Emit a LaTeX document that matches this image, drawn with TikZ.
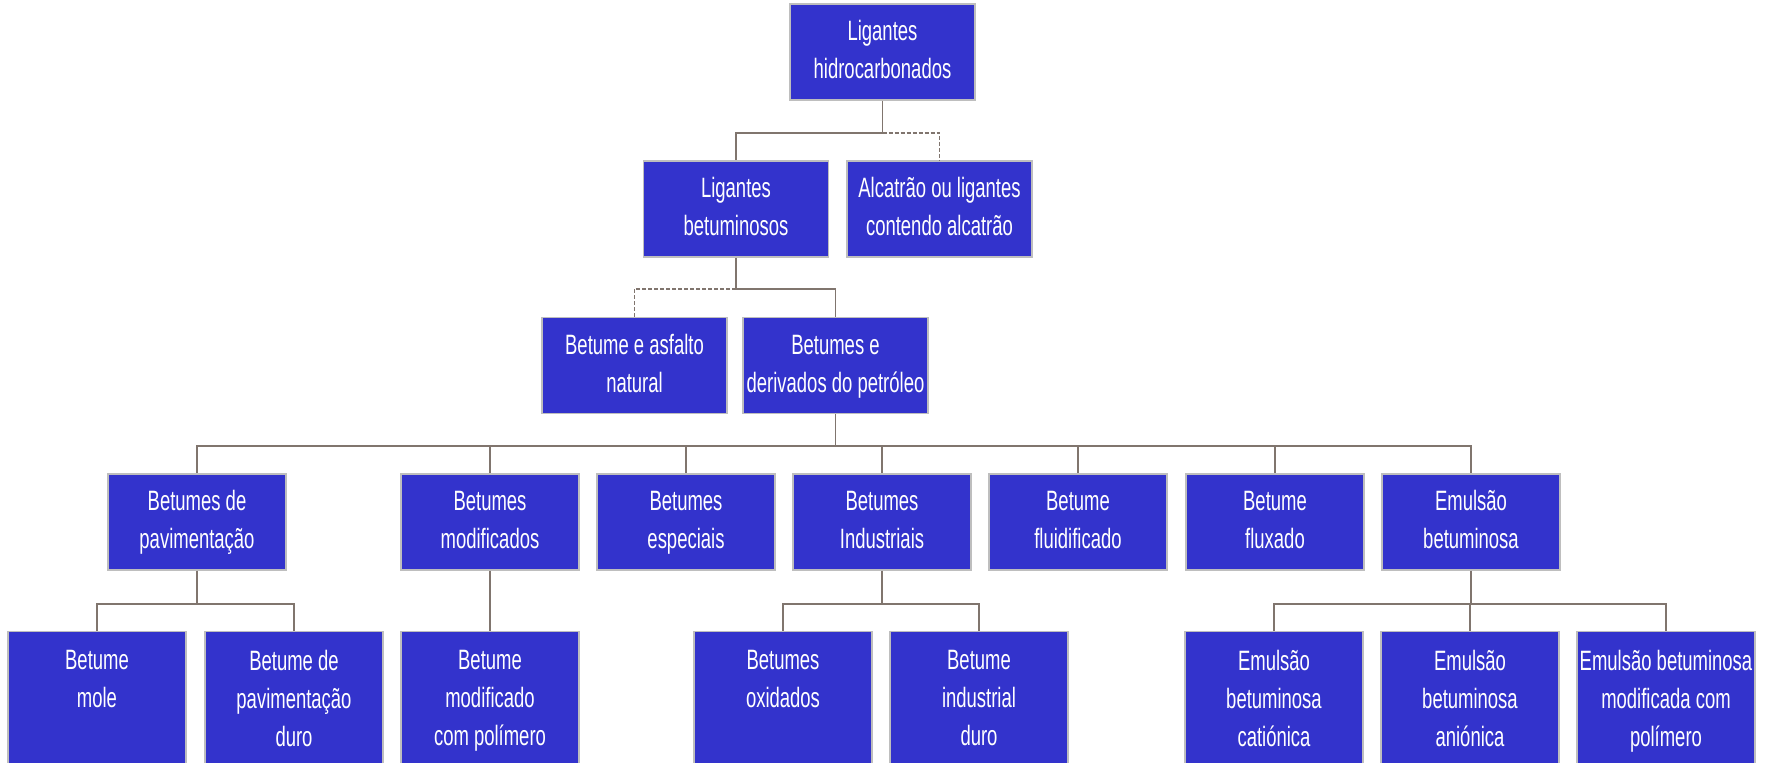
\documentclass[tikz,border=0pt]{standalone}
\usepackage{fontspec}
\setmainfont{Liberation Sans}[FakeStretch=0.66]
\usepackage{tikz}
\usetikzlibrary{positioning}
\definecolor{boxblue}{RGB}{51,51,204}
\definecolor{boxedge}{RGB}{190,190,190}
\definecolor{linkgray}{RGB}{128,117,110}

\begin{document}
\begin{tikzpicture}[x=0.5pt, y=-0.5pt,
  box/.style={rectangle, fill=boxblue, draw=boxedge, line width=0.7pt, text=white, align=center, font=\fontsize{14}{19}\selectfont, inner sep=0pt},
  wide/.style={box, minimum width=92.5pt, minimum height=48pt},
  mid/.style={box, minimum width=89pt, minimum height=48pt},
  low/.style={box, minimum width=89pt, anchor=north, inner ysep=9.3pt},
  link/.style={draw=linkgray, line width=0.7pt},
  dlink/.style={link, dash pattern=on 2pt off 1pt}]
\clip (0,0) rectangle (1769,763);
\node[wide] (hc) at (882.5,52) {\strut Ligantes\\hidrocarbonados\strut};
\node[wide] (bet) at (736,209) {\strut Ligantes\\betuminosos\strut};
\node[wide] (alc) at (939.5,209) {\strut Alcatrão ou ligantes\\contendo alcatrão\strut};
\node[wide] (nat) at (634.5,365.5) {\strut Betume e asfalto\\natural\strut};
\node[wide] (pet) at (835.5,365.5) {\strut Betumes e\\derivados do petróleo\strut};
\node[mid] (pav) at (197,522) {\strut Betumes de\\pavimentação\strut};
\node[mid] (mod) at (490,522) {\strut Betumes\\modificados\strut};
\node[mid] (esp) at (686,522) {\strut Betumes\\especiais\strut};
\node[mid] (ind) at (882,522) {\strut Betumes\\Industriais\strut};
\node[mid] (flu) at (1078,522) {\strut Betume\\fluidificado\strut};
\node[mid] (fx) at (1275,522) {\strut Betume\\fluxado\strut};
\node[mid] (emu) at (1471,522) {\strut Emulsão\\betuminosa\strut};
\node[low] (mole) at (97,631) {Betume\\mole\\\strut};
\node[low] (duro) at (294,631) {Betume de\\pavimentação\\duro\strut};
\node[low] (pol) at (490,631) {Betume\\modificado\\com polímero\strut};
\node[low] (oxi) at (783,631) {Betumes\\oxidados\\\strut};
\node[low] (idu) at (979,631) {Betume\\industrial\\duro\strut};
\node[low] (cat) at (1274,631) {Emulsão\\betuminosa\\catiónica\strut};
\node[low] (ani) at (1470,631) {Emulsão\\betuminosa\\aniónica\strut};
\node[low] (emp) at (1666,631) {Emulsão betuminosa\\modificada com\\polímero\strut};
\coordinate (b1) at (882.5,133);
\draw[link] (hc.south) -- (b1) -| (bet.north);
\draw[dlink] (b1) -| (alc.north);
\coordinate (b2) at (736,289);
\draw[link] (bet.south) -- (b2) -| (pet.north);
\draw[dlink] (b2) -| (nat.north);
\coordinate (b3) at (835.5,446);
\draw[link] (pet.south) -- (b3);
\foreach \n in {pav,mod,esp,ind,flu,fx,emu}
  \draw[link] (b3) -| (\n.north);
\coordinate (b4) at (197,604);
\draw[link] (pav.south) -- (b4);
\foreach \n in {mole,duro}
  \draw[link] (b4) -| (\n.north);
\draw[link] (mod.south) -- (pol.north);
\coordinate (b5) at (882,604);
\draw[link] (ind.south) -- (b5);
\foreach \n in {oxi,idu}
  \draw[link] (b5) -| (\n.north);
\coordinate (b6) at (1471,604);
\draw[link] (emu.south) -- (b6);
\foreach \n in {cat,ani,emp}
  \draw[link] (b6) -| (\n.north);
\end{tikzpicture}
\end{document}
